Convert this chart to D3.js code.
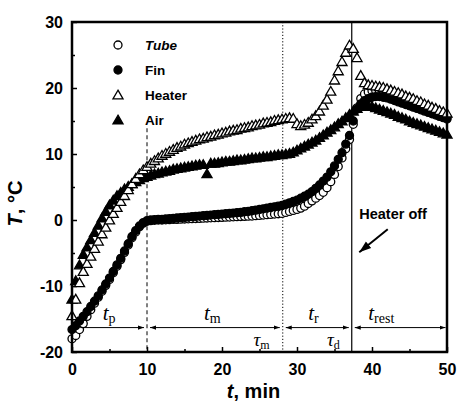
<!DOCTYPE html>
<html>
<head>
<meta charset="utf-8">
<script src="https://cdn.jsdelivr.net/npm/d3@7"></script>
<style>
  body { margin: 0; background: #fff; }
  svg { display: block; }
  .tick text { font-family: "Liberation Sans", Arial, sans-serif; font-weight: bold; font-size: 16px; fill: #000; }
  .tick line { stroke: #000; stroke-width: 1.5; }
</style>
</head>
<body>
<div id="chart"></div>
<script>
// time stamps (min), one reading every half minute
var times = [0,0.5,1,1.5,2,2.5,3,3.5,4,4.5,5,5.5,6,6.5,7,7.5,8,8.5,9,9.5,
  10,10.5,11,11.5,12,12.5,13,13.5,14,14.5,15,15.5,16,16.5,17,17.5,18,18.5,19,19.5,
  20,20.5,21,21.5,22,22.5,23,23.5,24,24.5,25,25.5,26,26.5,27,27.5,28,28.5,29,29.5,
  30,30.5,31,31.5,32,32.5,33,33.5,34,34.5,35,35.5,36,36.5,37,37.5,38,38.5,39,39.5,
  40,40.5,41,41.5,42,42.5,43,43.5,44,44.5,45,45.5,46,46.5,47,47.5,48,48.5,49,49.5,50];

var tubeT = [-18.0,-17.5,-16.6,-15.7,-14.6,-13.6,-12.6,-11.7,-10.8,-9.9,
  -9.0,-8.0,-7.0,-6.0,-4.9,-3.8,-2.7,-1.8,-1.0,-0.5,
  -0.2,-0.1,-0.05,0.0,0.0,0.03,0.05,0.08,0.1,0.13,0.15,0.18,0.2,0.23,0.25,0.28,0.3,0.33,0.35,0.38,
  0.4,0.43,0.45,0.48,0.5,0.53,0.55,0.58,0.6,0.65,0.7,0.75,0.8,0.85,0.9,0.95,1.0,1.15,1.3,1.45,
  1.6,1.8,2.1,2.5,2.9,3.3,3.7,4.2,4.9,5.8,6.9,8.1,9.4,10.8,12.2,14.5,17.0,18.4,19.1,19.4,
  19.6,19.6,19.5,19.4,19.2,19.0,18.8,18.5,18.3,18.0,17.8,17.5,17.3,17.0,16.8,16.5,16.3,16.1,15.9,15.7,15.5];

var finT = [-16.6,-16.0,-15.3,-14.6,-13.9,-13.1,-12.3,-11.5,-10.6,-9.7,
  -8.8,-7.8,-6.8,-5.8,-4.7,-3.6,-2.5,-1.6,-0.9,-0.4,
  -0.1,0.0,0.05,0.1,0.1,0.15,0.2,0.25,0.3,0.35,0.4,0.45,0.5,0.55,0.6,0.65,0.7,0.75,0.8,0.85,
  0.9,0.95,1.0,1.05,1.1,1.15,1.25,1.3,1.4,1.5,1.6,1.7,1.8,1.9,2.0,2.1,2.2,2.4,2.6,2.8,
  3.0,3.3,3.6,3.9,4.3,4.8,5.3,5.9,6.5,7.3,8.2,9.2,10.2,11.5,12.8,15.0,16.8,17.6,18.1,18.4,
  18.6,18.7,18.7,18.6,18.5,18.3,18.1,17.9,17.7,17.5,17.3,17.1,16.9,16.7,16.5,16.3,16.1,15.9,15.7,15.5,15.3];

var heaterT = [-14.5,-12.0,-9.5,-7.8,-6.6,-5.5,-4.3,-3.2,-2.1,-1.1,
  0.0,1.0,1.9,2.8,3.7,4.6,5.5,6.3,7.0,7.6,
  8.1,8.6,9.0,9.4,9.8,10.1,10.4,10.7,11.0,11.2,11.5,11.7,11.9,12.1,12.3,12.4,12.6,12.7,12.9,13.0,
  13.2,13.3,13.5,13.6,13.7,13.9,14.0,14.1,14.3,14.4,14.5,14.7,14.8,14.9,15.1,15.2,15.3,15.4,15.5,15.4,
  14.6,14.3,14.5,14.8,15.3,15.8,16.5,17.4,18.3,19.5,21.2,22.6,24.0,25.4,26.5,26.0,24.6,21.9,20.8,20.5,
  20.4,20.3,20.2,20.1,19.9,19.7,19.5,19.3,19.1,18.8,18.6,18.4,18.1,17.9,17.6,17.4,17.1,16.9,16.6,16.4,16.2];

var airT = [-12.0,-9.2,-6.8,-5.2,-4.1,-3.0,-1.9,-0.8,0.3,1.3,
  2.3,3.0,3.7,4.2,4.7,5.1,5.5,5.8,6.1,6.4,
  6.6,6.8,7.0,7.1,7.3,7.4,7.5,7.7,7.8,7.9,8.0,8.1,8.2,8.3,8.4,8.4,7.0,8.6,8.6,8.7,
  8.8,8.9,8.9,9.0,9.1,9.1,9.2,9.3,9.4,9.4,9.5,9.6,9.6,9.7,9.8,9.9,9.9,10.0,10.1,10.3,
  10.6,10.9,11.2,11.5,11.8,12.1,12.5,12.9,13.3,13.7,14.1,14.6,15.0,15.5,16.0,16.5,16.9,17.2,17.3,17.3,
  17.2,17.0,16.8,16.6,16.4,16.2,16.0,15.7,15.5,15.3,15.0,14.8,14.6,14.4,14.2,14.0,13.8,13.6,13.4,13.2,13.0];

var xTicks = [0, 10, 20, 30, 40, 50];
var yTicks = [-20, -10, 0, 10, 20, 30];
var legendNames = ["Tube", "Fin", "Heater", "Air"];

// phase boundaries (min)
var tMelt = 10, tauM = 28.1, tauD = 37.3;

var svgWidth = 457, svgHeight = 401;
var margin = { top: 22, right: 10, bottom: 49, left: 72 };
var width = 375;
var height = svgHeight - margin.top - margin.bottom;

var svg = d3.select("#chart").append("svg")
  .attr("width", svgWidth)
  .attr("height", svgHeight);

var chartGroup = svg.append("g")
  .attr("transform", `translate(${margin.left}, ${margin.top})`);

var x = d3.scaleLinear().domain([0, 50]).range([0, width]);
var y = d3.scaleLinear().domain([-20, 30]).range([height, 0]);

// plain hyphen for negatives, like the original figure
var plain = d => String(d);

// minor ticks (inward)
chartGroup.append("g")
  .attr("transform", `translate(0, ${height})`)
  .call(d3.axisBottom(x).tickValues([5, 15, 25, 35, 45]).tickSize(-3).tickFormat(""))
  .call(g => g.select(".domain").remove());
chartGroup.append("g")
  .call(d3.axisLeft(y).tickValues([-15, -5, 5, 15, 25]).tickSize(-3).tickFormat(""))
  .call(g => g.select(".domain").remove());

// major ticks
chartGroup.append("g")
  .attr("transform", `translate(0, ${height})`)
  .call(d3.axisBottom(x).tickValues(xTicks).tickSize(-5).tickPadding(12).tickFormat(plain))
  .call(g => g.select(".domain").remove());
chartGroup.append("g")
  .call(d3.axisLeft(y).tickValues(yTicks).tickSize(-5).tickPadding(9).tickFormat(plain))
  .call(g => g.select(".domain").remove());

// vertical phase lines
chartGroup.append("line")
  .attr("x1", x(tMelt)).attr("x2", x(tMelt))
  .attr("y1", y(13.9)).attr("y2", height)
  .attr("stroke", "#000").attr("stroke-width", 1)
  .attr("stroke-dasharray", "4,3");
chartGroup.append("line")
  .attr("x1", x(tauM)).attr("x2", x(tauM))
  .attr("y1", 0).attr("y2", height)
  .attr("stroke", "#000").attr("stroke-width", 1)
  .attr("stroke-dasharray", "1.2,2");
chartGroup.append("line")
  .attr("x1", x(tauD)).attr("x2", x(tauD))
  .attr("y1", 0).attr("y2", height)
  .attr("stroke", "#000").attr("stroke-width", 1.2);

// series
var triangle = d3.symbol().type(d3.symbolTriangle).size(44);

function drawCircles(values, fill) {
  chartGroup.append("g").selectAll("circle")
    .data(values)
    .enter()
    .append("circle")
    .attr("cx", (d, i) => x(times[i]))
    .attr("cy", d => y(d))
    .attr("r", 4)
    .attr("fill", fill)
    .attr("stroke", "#000")
    .attr("stroke-width", 1.3);
}
function drawTriangles(values, fill) {
  chartGroup.append("g").selectAll("path")
    .data(values)
    .enter()
    .append("path")
    .attr("d", triangle)
    .attr("transform", (d, i) => `translate(${x(times[i])}, ${y(d) + 1})`)
    .attr("fill", fill)
    .attr("stroke", "#000")
    .attr("stroke-width", 1.3);
}
drawCircles(tubeT, "#fff");
drawCircles(finT, "#000");
drawTriangles(airT, "#000");
drawTriangles(heaterT, "#fff");

// frame
chartGroup.append("rect")
  .attr("x", 0).attr("y", 0)
  .attr("width", width).attr("height", height)
  .attr("fill", "none")
  .attr("stroke", "#000")
  .attr("stroke-width", 2.5);

// legend
var legend = chartGroup.append("g");
legendNames.forEach(function(name, i) {
  var ly = 23 + i * 25;
  var lx = 46;
  if (i < 2) {
    legend.append("circle").attr("cx", lx).attr("cy", ly).attr("r", 4)
      .attr("fill", i === 0 ? "#fff" : "#000")
      .attr("stroke", "#000").attr("stroke-width", 1.3);
  } else {
    legend.append("path").attr("d", triangle)
      .attr("transform", `translate(${lx}, ${ly + 1})`)
      .attr("fill", i === 2 ? "#fff" : "#000")
      .attr("stroke", "#000").attr("stroke-width", 1.3);
  }
  legend.append("text")
    .attr("x", lx + 27).attr("y", ly + 5)
    .style("font-family", "Liberation Sans, Arial, sans-serif")
    .style("font-weight", "bold")
    .style("font-size", "13.5px")
    .style("font-style", i === 0 ? "italic" : "normal")
    .text(name);
});

// interval arrows
svg.append("defs").append("marker")
  .attr("id", "head")
  .attr("viewBox", "0 0 10 10")
  .attr("refX", 10).attr("refY", 5)
  .attr("markerWidth", 6).attr("markerHeight", 6)
  .attr("orient", "auto-start-reverse")
  .append("path")
  .attr("d", "M0,1.5 L10,5 L0,8.5 Z")
  .attr("fill", "#000");

var arrowY = y(-16.3);
var spans = [[1.1, tMelt - 0.4], [tMelt + 0.4, tauM - 0.4], [tauM + 0.4, tauD - 0.4], [tauD + 0.4, 49.8]];
spans.forEach(function(s, i) {
  chartGroup.append("line")
    .attr("x1", x(s[0])).attr("x2", x(s[1]))
    .attr("y1", arrowY).attr("y2", arrowY)
    .attr("stroke", "#000").attr("stroke-width", 1)
    .attr("marker-end", "url(#head)")
    .attr("marker-start", i === 0 ? null : "url(#head)");
});

function subLabel(g, tx, ty, main, sub, big, small) {
  var t = g.append("text")
    .attr("x", tx).attr("y", ty)
    .style("font-family", "Liberation Serif, Times New Roman, serif");
  t.append("tspan").style("font-style", "italic").style("font-size", big + "px").text(main);
  t.append("tspan").attr("dy", 3).style("font-size", small + "px").text(sub);
  return t;
}
var labY = arrowY - 8;
subLabel(chartGroup, x(4.1), labY, "t", "p", 21, 14);
subLabel(chartGroup, x(17.6), labY, "t", "m", 21, 14);
subLabel(chartGroup, x(31.5), labY, "t", "r", 21, 14);
subLabel(chartGroup, x(39.5), labY, "t", "rest", 21, 14);
subLabel(chartGroup, x(24.2), height - 6, "\u03C4", "m", 19, 12);
subLabel(chartGroup, x(34.0), height - 6, "\u03C4", "d", 19, 12);

// heater off note
chartGroup.append("text")
  .attr("x", x(38.3)).attr("y", y(0.2))
  .style("font-family", "Liberation Sans, Arial, sans-serif")
  .style("font-weight", "bold")
  .style("font-size", "14.5px")
  .text("Heater off");
chartGroup.append("line")
  .attr("x1", x(42.1)).attr("y1", y(-1.4))
  .attr("x2", x(38.3)).attr("y2", y(-4.9))
  .attr("stroke", "#000").attr("stroke-width", 2)
  .attr("marker-end", "url(#head)");

// axis titles
var xTitle = svg.append("text")
  .attr("x", margin.left + x(25) - 6).attr("y", 398)
  .attr("text-anchor", "middle")
  .style("font-family", "Liberation Sans, Arial, sans-serif")
  .style("font-weight", "bold")
  .style("font-size", "20px");
xTitle.append("tspan").style("font-style", "italic").text("t");
xTitle.append("tspan").text(", min");

var yTitle = svg.append("text")
  .attr("transform", `translate(22, ${margin.top + y(2.5)}) rotate(-90)`)
  .attr("text-anchor", "middle")
  .style("font-family", "Liberation Sans, Arial, sans-serif")
  .style("font-weight", "bold")
  .style("font-size", "20px");
yTitle.append("tspan").style("font-style", "italic").text("T");
yTitle.append("tspan").text(", \u00B0C");
</script>
</body>
</html>
